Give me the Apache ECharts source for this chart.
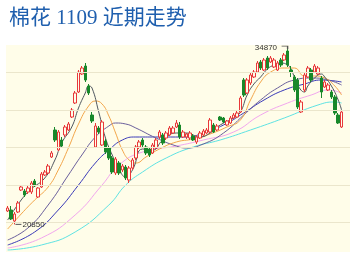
<!DOCTYPE html>
<html><head><meta charset="utf-8">
<script src="https://cdn.jsdelivr.net/npm/echarts@6/dist/echarts.min.js"></script>
<style>html,body{margin:0;padding:0;background:#fff}#c{width:353px;height:256px}</style>
</head><body><div id="c"></div>
<script>
const titleText = '棉花 1109 近期走势';
const gridValues = [21000, 24000, 27000, 30000, 33000];
const opens  = [21920,22000,21120,21840,23600,23520,23440,23440,24320,23040,23840,24800,24960,26240,28400,26800,27600,28000,28400,29440,30560,31440,32880,33520,31920,29600,27040,28560,27200,27520,26960,26160,24960,25760,25200,25440,24400,25360,26160,27040,27600,27040,26880,26560,26960,27840,28000,27760,28000,28160,28640,28800,27840,27840,27760,27920,27440,27760,28000,28160,28240,28800,28400,29440,29360,28800,28960,29360,29440,29840,32400,31360,32160,32640,33040,33840,33200,34160,33840,33440,33200,34000,34000,34720,33200,32640,32400,29840,31600,32640,33200,33040,32880,32560,31840,31600,31440,31040,29600,28640];
const closes = [22160,21280,21680,22560,23840,23200,23760,24160,23920,23760,24880,25040,25520,26560,27600,28240,27120,28640,28880,30000,31360,33040,33360,32400,31360,29120,28720,28240,29040,26640,26160,25040,26080,24960,25520,24560,25360,26000,27040,27440,27200,26560,26400,27200,27600,28240,27360,28160,28560,28560,28960,27840,28240,28080,28160,27600,27840,28160,28320,28400,29200,28240,28720,29200,29040,29120,29360,29600,29760,30960,31200,32400,32800,33040,33760,33360,34000,33360,34160,34000,33760,33600,34400,33600,33040,31600,30240,30640,32800,33360,32400,33520,33360,31440,32240,32000,31040,29760,28960,29840];
const lows   = [21840,21200,20850,21760,23520,23040,23280,23280,23840,22960,23760,24720,24880,26160,27440,26720,26960,27840,28320,29360,30480,31360,32800,32240,31200,28960,26960,28080,27120,26480,26000,24880,24800,24800,25040,24400,24160,25200,26000,26880,27040,26400,26240,26480,26880,27680,27200,27600,27920,28080,28560,27680,27760,27680,27600,27520,27280,27680,27920,28080,28160,28160,28320,29120,28960,28720,28880,29280,29360,29760,31040,31280,32000,32560,32960,33200,33120,33200,33760,33360,33120,33440,33920,33440,32640,31440,30080,29760,31440,32560,32240,32960,32800,30960,31760,31520,30880,29600,28880,28560];
const highs  = [22320,22320,21840,22720,24000,23680,23920,24320,24480,23840,25040,25200,25680,26720,28640,28400,27840,28800,29040,30160,31520,33200,33520,33760,32080,29840,28960,28720,29200,27680,27120,26320,26240,25920,25680,25600,25520,26160,27200,27600,27760,27200,27040,27360,27760,28400,28160,28320,28720,28720,29200,29040,28400,28160,28320,28080,28000,28320,28480,28560,29360,28960,28880,29520,29440,29200,29520,29760,29920,31120,32560,32560,32960,33200,33920,34000,34160,34320,34320,34160,33920,34160,34560,34870,33520,32800,32560,30800,32960,33520,33360,33680,33520,32720,32400,32160,31600,31200,29760,30000];
// moving averages, sampled [candle index, value]
const ma5   = [[0,21200],[4,22800],[7,23680],[11,24560],[14,26000],[16,27360],[19,28640],[21,30160],[23,31360],[24,31920],[25,31760],[27,29840],[29,27760],[31,26400],[33,25280],[35,24640],[37,25200],[40,26880],[43,26800],[46,27600],[50,28160],[53,28160],[57,27840],[60,28160],[63,28800],[67,29360],[69,29840],[71,31200],[73,32080],[75,32640],[77,33280],[79,33600],[81,33760],[83,33600],[84,33280],[86,32000],[88,31440],[89,31920],[91,32560],[93,32880],[94,32640],[96,31920],[98,30800],[99,30000]];
const ma10  = [[0,20480],[4,21680],[8,22800],[12,23840],[15,25200],[18,26960],[21,28880],[24,30320],[26,30720],[28,30480],[30,29520],[32,28160],[34,26800],[36,26000],[38,25760],[41,26240],[45,26880],[50,27440],[55,27680],[60,28080],[65,28640],[69,29200],[72,30800],[75,32240],[78,33040],[82,33360],[85,33360],[88,32720],[91,32720],[94,32560],[97,31920],[99,31200]];
const ma20  = [[0,19600],[6,20560],[12,22400],[18,24800],[22,26400],[26,27840],[30,28720],[32,28960],[35,28880],[38,28560],[44,27760],[50,27120],[53,26960],[58,27280],[64,28160],[70,29600],[75,30800],[80,31760],[85,32400],[90,32560],[95,32400],[99,32000]];
const ma30  = [[0,19200],[8,20240],[15,22000],[21,24000],[26,25760],[30,26800],[34,27600],[38,27840],[45,27840],[53,27840],[58,28160],[64,28800],[70,29760],[76,30800],[82,31600],[88,32080],[93,32400],[99,32240]];
const ma60  = [[0,18960],[10,19760],[20,21600],[28,24000],[33,25600],[40,26640],[50,27120],[58,27600],[67,28240],[75,29600],[83,30560],[90,31200],[95,31600],[99,31360]];
const ma120 = [[0,18800],[10,19200],[20,20240],[30,22400],[35,24000],[40,25040],[47,26160],[55,27040],[63,27600],[72,28400],[82,29360],[92,30400],[97,30640],[99,30560]];

const categories = opens.map((_, i) => String(i + 1));
const kdata = opens.map((o, i) => [o, closes[i], lows[i], highs[i]]);

function maSeries(name, data, color) {
  return { name, type: 'line', data, smooth: true, showSymbol: false, symbol: 'none',
    lineStyle: { color, width: 1 }, z: 3, silent: true };
}

const chart = echarts.init(document.getElementById('c'), null, { renderer: 'canvas' });
chart.setOption({
  animation: false,
  backgroundColor: '#ffffff',
  title: { text: titleText, left: 4, top: 3,
    textStyle: { fontSize: 21, color: '#1f5fae', fontWeight: 'normal', fontFamily: '"Liberation Serif", "Noto Sans CJK SC"' } },
  grid: { left: 6, right: 3, top: 45, bottom: 4, show: true, backgroundColor: '#fffde9', borderWidth: 0 },
  xAxis: { type: 'category', data: categories, max: 101, boundaryGap: true,
    axisLine: { show: false }, axisTick: { show: false }, axisLabel: { show: false }, splitLine: { show: false } },
  yAxis: { type: 'value', min: 18640, max: 35200, scale: true,
    axisLine: { show: false }, axisTick: { show: false }, axisLabel: { show: false }, splitLine: { show: false } },
  series: [
    { type: 'line', data: [], z: 1, silent: true,
      markLine: { silent: true, symbol: 'none', label: { show: false },
        lineStyle: { color: '#ebe6cc', width: 1, type: 'solid' },
        data: gridValues.map(v => ({ yAxis: v })) } },
    maSeries('MA120', ma120, '#5fe3e3'),
    maSeries('MA60', ma60, '#f2a6ee'),
    maSeries('MA30', ma30, '#3a3ab8'),
    maSeries('MA20', ma20, '#6a5f9c'),
    maSeries('MA10', ma10, '#f3a64a'),
    maSeries('MA5', ma5, '#505860'),
    { type: 'candlestick', data: kdata, barWidth: 3, z: 4,
      itemStyle: { color: '#fffde9', color0: '#18882a', borderColor: '#e8383a', borderColor0: '#18882a', borderWidth: 1 },
      markPoint: {
        silent: true,
        data: [
          { type: 'max', valueDim: 'highest', symbol: 'path://M0,0 L6,0 L6,3', symbolSize: [6, 3], symbolOffset: [-3, -1.5],
            itemStyle: { color: 'none', borderColor: '#555', borderWidth: 1 },
            label: { show: true, position: 'left', distance: 1, color: '#333', fontSize: 8, fontFamily: '"Liberation Sans"',
              formatter: p => String(p.value) } },
          { type: 'min', valueDim: 'lowest', symbol: 'rect', symbolSize: [6, 1], symbolOffset: [4, 0],
            itemStyle: { color: '#555' },
            label: { show: true, position: 'right', distance: 1, color: '#333', fontSize: 8, fontFamily: '"Liberation Sans"',
              formatter: p => String(p.value) } }
        ]
      } }
  ]
});
</script></body></html>
